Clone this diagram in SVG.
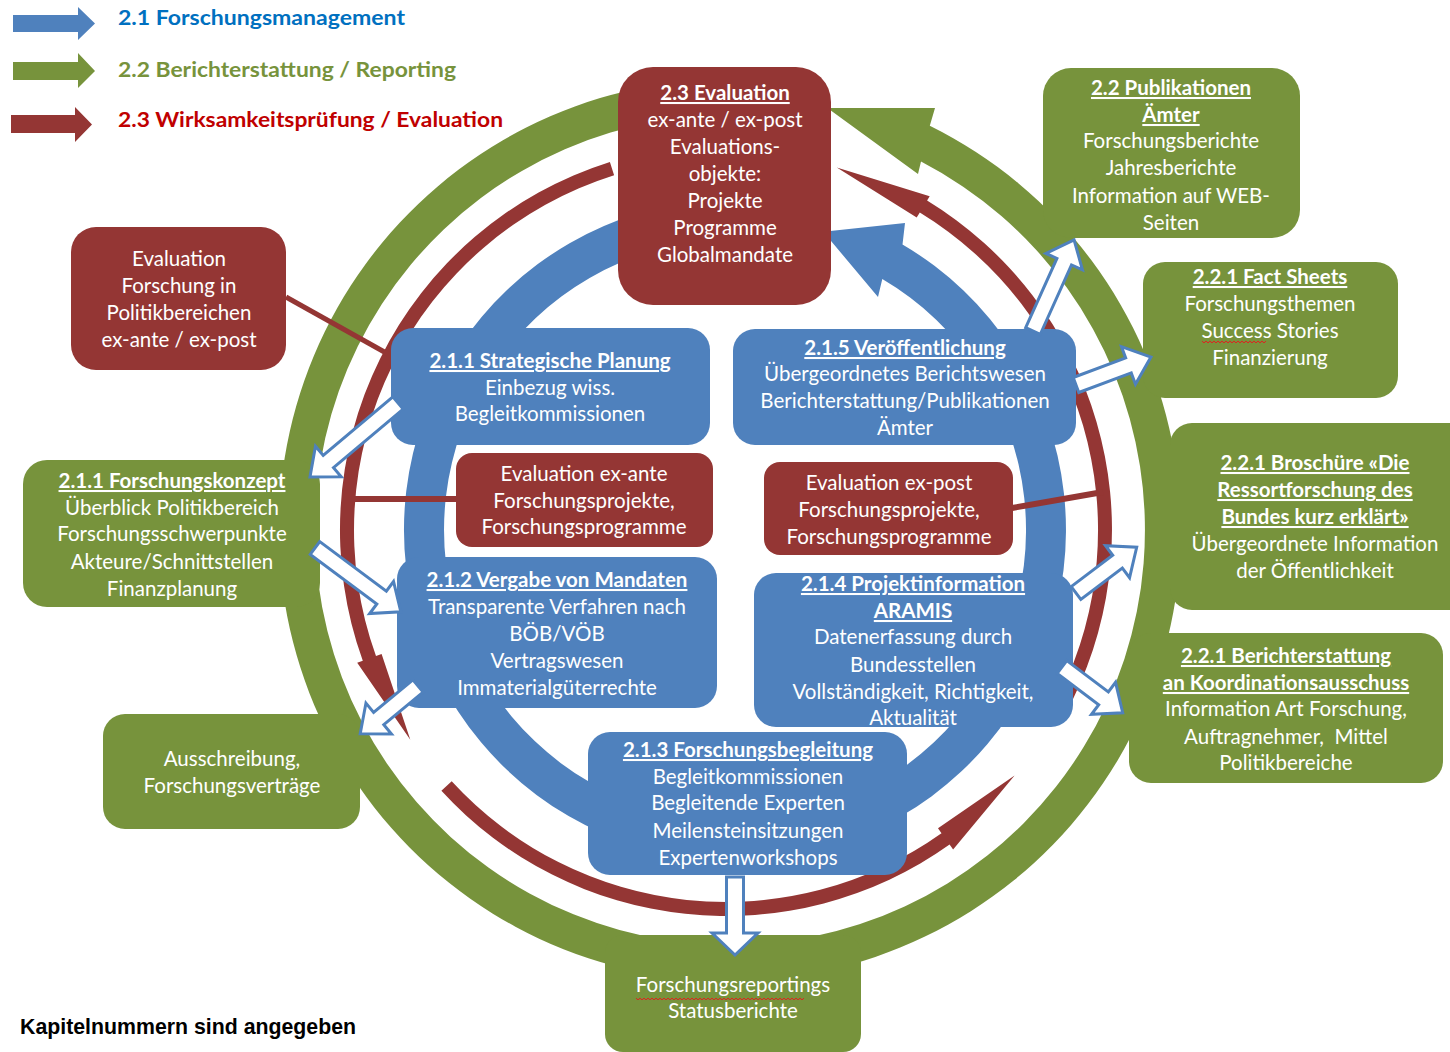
<svg xmlns="http://www.w3.org/2000/svg" width="1450" height="1052" viewBox="0 0 1450 1052">
<defs>
<style>
.tx{font-family:Lato,"Open Sans","Liberation Sans",sans-serif;font-size:20.5px;fill:#fff;text-anchor:middle}
.hd{font-weight:700;text-decoration:underline}
.lg{font-family:Lato,"Liberation Sans",sans-serif;font-size:21px;font-weight:700}
.red{fill:#943634}
.grn{fill:#77933C}
.blu{fill:#4F81BD}
.ln{stroke:#943634;fill:none}
.wa{fill:#fff;stroke:#4F81BD;stroke-width:3;stroke-linejoin:miter}
.wv{fill:none;stroke:#E02020;stroke-width:1}
</style>
</defs>
<rect x="0" y="0" width="1450" height="1052" fill="#fff"/>

<g id="legend">
<polygon class="blu" points="13,15 78,15 78,7 95,23.5 78,40 78,32 13,32"/>
<polygon class="grn" points="13,62 78,62 78,53 95,71 78,88 78,80 13,80"/>
<polygon class="red" points="11,115 75,115 75,107 92,124.5 75,142 75,133 11,133"/>
<text class="lg" x="118" y="25" fill="#0070C0" textLength="287" lengthAdjust="spacingAndGlyphs">2.1 Forschungsmanagement</text>
<text class="lg" x="118" y="77" fill="#77933C" textLength="338" lengthAdjust="spacingAndGlyphs">2.2 Berichterstattung / Reporting</text>
<text class="lg" x="118" y="127" fill="#C00000" textLength="385" lengthAdjust="spacingAndGlyphs">2.3 Wirksamkeitsprüfung / Evaluation</text>
</g>

<g id="rings">
<path class="grn" d="M651.7,85.8 A451,451 0 1 0 929.8,125.7 L935,108 L827.4,108.1 L918,174 L921,161.6 A415,415 0 1 1 657.9,121.3 Z"/>
<path class="red" d="M1072.9,699.2 A386,386 0 0 0 927.1,200.5 L929.7,196.3 L836.8,167.6 L916.7,217.6 L919.8,212.5 A372,372 0 0 1 1060.4,693.1 Z"/>
<path class="red" d="M441.4,790.8 A386,386 0 0 0 949.6,844.6 L953.1,849.5 L1014.6,775.6 L938,828.3 L941.5,833.2 A372,372 0 0 1 451.7,781.3 Z"/>
<path class="red" d="M609.9,161.9 A386,386 0 0 0 362.8,660.8 L357.2,662.8 L410.3,739.7 L381.6,654 L376,656 A372,372 0 0 1 614.1,175.2 Z"/>
<path class="blu" d="M677.5,204 A331,331 0 1 0 902.5,244.5 L905,223 L823.3,231.8 L878,297 L882.3,279 A291,291 0 1 1 684.5,243.4 Z"/>
</g>

<g id="eval-links">
<line class="ln" x1="286" y1="297" x2="388" y2="354" stroke-width="5"/>
<line class="ln" x1="350" y1="499" x2="457" y2="499" stroke-width="6"/>
<line class="ln" x1="1012" y1="508" x2="1103" y2="492" stroke-width="6"/>
</g>

<g id="n-eval">
<rect class="red" x="618" y="67" width="213" height="238" rx="35"/>
<text class="tx"><tspan class="hd" x="725" y="100">2.3 Evaluation</tspan><tspan x="725" y="127">ex-ante / ex-post</tspan><tspan x="725" y="154">Evaluations-</tspan><tspan x="725" y="181">objekte:</tspan><tspan x="725" y="208">Projekte</tspan><tspan x="725" y="235">Programme</tspan><tspan x="725" y="262">Globalmandate</tspan></text>
</g>

<g id="n-politik">
<rect class="red" x="71" y="227" width="215" height="143" rx="25"/>
<text class="tx"><tspan x="179" y="266">Evaluation</tspan><tspan x="179" y="293">Forschung in</tspan><tspan x="179" y="320">Politikbereichen</tspan><tspan x="179" y="347">ex-ante / ex-post</tspan></text>
</g>

<g id="n-211-planung">
<rect class="blu" x="391" y="328" width="319" height="117" rx="22"/>
<text class="tx"><tspan class="hd" x="550" y="368">2.1.1 Strategische Planung</tspan><tspan x="550" y="395">Einbezug wiss.</tspan><tspan x="550" y="421">Begleitkommissionen</tspan></text>
</g>

<g id="n-exante">
<rect class="red" x="456" y="453" width="257" height="94" rx="16"/>
<text class="tx"><tspan x="584" y="481">Evaluation ex-ante</tspan><tspan x="584" y="508">Forschungsprojekte,</tspan><tspan x="584" y="534">Forschungsprogramme</tspan></text>
</g>

<g id="n-212">
<rect class="blu" x="397" y="557" width="320" height="151" rx="22"/>
<text class="tx"><tspan class="hd" x="557" y="587">2.1.2 Vergabe von Mandaten</tspan><tspan x="557" y="614">Transparente Verfahren nach</tspan><tspan x="557" y="641">BÖB/VÖB</tspan><tspan x="557" y="668">Vertragswesen</tspan><tspan x="557" y="695">Immaterialgüterrechte</tspan></text>
</g>

<g id="n-215">
<rect class="blu" x="733" y="329" width="343" height="116" rx="22"/>
<text class="tx"><tspan class="hd" x="905" y="355">2.1.5 Veröffentlichung</tspan><tspan x="905" y="381">Übergeordnetes Berichtswesen</tspan><tspan x="905" y="408">Berichterstattung/Publikationen</tspan><tspan x="905" y="435">Ämter</tspan></text>
</g>

<g id="n-expost">
<rect class="red" x="764" y="462" width="249" height="93" rx="16"/>
<text class="tx"><tspan x="889" y="490">Evaluation ex-post</tspan><tspan x="889" y="517">Forschungsprojekte,</tspan><tspan x="889" y="544">Forschungsprogramme</tspan></text>
</g>

<g id="n-214">
<rect class="blu" x="754" y="573" width="319" height="154" rx="22"/>
<text class="tx"><tspan class="hd" x="913" y="591">2.1.4 Projektinformation</tspan><tspan class="hd" x="913" y="618">ARAMIS</tspan><tspan x="913" y="644">Datenerfassung durch</tspan><tspan x="913" y="672">Bundesstellen</tspan><tspan x="913" y="699">Vollständigkeit, Richtigkeit,</tspan><tspan x="913" y="725">Aktualität</tspan></text>
</g>

<g id="n-213">
<rect class="blu" x="588" y="732" width="319" height="143" rx="22"/>
<text class="tx"><tspan class="hd" x="748" y="757">2.1.3 Forschungsbegleitung</tspan><tspan x="748" y="784">Begleitkommissionen</tspan><tspan x="748" y="810">Begleitende Experten</tspan><tspan x="748" y="838">Meilensteinsitzungen</tspan><tspan x="748" y="865">Expertenworkshops</tspan></text>
</g>

<g id="n-konzept">
<rect class="grn" x="23" y="460" width="297" height="147" rx="24"/>
<text class="tx"><tspan class="hd" x="172" y="488">2.1.1 Forschungskonzept</tspan><tspan x="172" y="515">Überblick Politikbereich</tspan><tspan x="172" y="541">Forschungsschwerpunkte</tspan><tspan x="172" y="569">Akteure/Schnittstellen</tspan><tspan x="172" y="596">Finanzplanung</tspan></text>
</g>

<g id="n-ausschreibung">
<rect class="grn" x="103" y="714" width="257" height="115" rx="22"/>
<text class="tx"><tspan x="232" y="766">Ausschreibung,</tspan><tspan x="232" y="793">Forschungsverträge</tspan></text>
</g>

<g id="n-publikationen">
<rect class="grn" x="1043" y="68" width="257" height="170" rx="28"/>
<text class="tx"><tspan class="hd" x="1171" y="95">2.2 Publikationen</tspan><tspan class="hd" x="1171" y="122">Ämter</tspan><tspan x="1171" y="148">Forschungsberichte</tspan><tspan x="1171" y="175">Jahresberichte</tspan><tspan x="1171" y="203">Information auf WEB-</tspan><tspan x="1171" y="230">Seiten</tspan></text>
</g>

<g id="n-factsheets">
<rect class="grn" x="1143" y="262" width="255" height="136" rx="22"/>
<text class="tx"><tspan class="hd" x="1270" y="284">2.2.1 Fact Sheets</tspan><tspan x="1270" y="311">Forschungsthemen</tspan><tspan x="1270" y="338">Success Stories</tspan><tspan x="1270" y="365">Finanzierung</tspan></text>
<path class="wv" d="M1202,341 l2,2 2,-2 2,2 2,-2 2,2 2,-2 2,2 2,-2 2,2 2,-2 2,2 2,-2 2,2 2,-2 2,2 2,-2 2,2 2,-2 2,2 2,-2 2,2 2,-2 2,2 2,-2 2,2 2,-2 2,2 2,-2 2,2 2,-2 2,2 2,-2"/>
</g>

<g id="n-broschuere">
<rect class="grn" x="1170" y="423" width="300" height="187" rx="22"/>
<text class="tx"><tspan class="hd" x="1315" y="470">2.2.1 Broschüre «Die</tspan><tspan class="hd" x="1315" y="497">Ressortforschung des</tspan><tspan class="hd" x="1315" y="524">Bundes kurz erklärt»</tspan><tspan x="1315" y="551">Übergeordnete Information</tspan><tspan x="1315" y="578">der Öffentlichkeit</tspan></text>
</g>

<g id="n-berichterstattung">
<rect class="grn" x="1129" y="633" width="314" height="150" rx="22"/>
<text class="tx" xml:space="preserve"><tspan class="hd" x="1286" y="663">2.2.1 Berichterstattung</tspan><tspan class="hd" x="1286" y="690">an Koordinationsausschuss</tspan><tspan x="1286" y="716">Information Art Forschung,</tspan><tspan x="1286" y="744">Auftragnehmer,  Mittel</tspan><tspan x="1286" y="770">Politikbereiche</tspan></text>
</g>

<g id="n-reportings">
<rect class="grn" x="605" y="935" width="256" height="117" rx="18"/>
<text class="tx"><tspan x="733" y="992">Forschungsreportings</tspan><tspan x="733" y="1018">Statusberichte</tspan></text>
<path class="wv" d="M636,998 l2,2 2,-2 2,2 2,-2 2,2 2,-2 2,2 2,-2 2,2 2,-2 2,2 2,-2 2,2 2,-2 2,2 2,-2 2,2 2,-2 2,2 2,-2 2,2 2,-2 2,2 2,-2 2,2 2,-2 2,2 2,-2 2,2 2,-2 2,2 2,-2 2,2 2,-2 2,2 2,-2 2,2 2,-2 2,2 2,-2 2,2 2,-2 2,2 2,-2 2,2 2,-2 2,2 2,-2 2,2 2,-2 2,2 2,-2 2,2 2,-2 2,2 2,-2 2,2 2,-2 2,2 2,-2 2,2 2,-2 2,2 2,-2 2,2 2,-2 2,2 2,-2 2,2 2,-2 2,2 2,-2 2,2 2,-2 2,2 2,-2 2,2 2,-2 2,2 2,-2 2,2 2,-2 2,2 2,-2"/>
</g>

<g id="connectors">
<path class="wa" transform="translate(398,403) rotate(139.94)" d="M0,-8 H91 V-20 L115,0 L91,20 V8 H0 Z"/>
<path class="wa" transform="translate(315,548) rotate(36.65)" d="M0,-8 H83 V-20 L107,0 L83,20 V8 H0 Z"/>
<path class="wa" transform="translate(418,686) rotate(140.4)" d="M0,-8 H51 V-20 L75,0 L51,20 V8 H0 Z"/>
<path class="wa" transform="translate(1033,331) rotate(-65.75)" d="M0,-8 H76 V-20 L100,0 L76,20 V8 H0 Z"/>
<path class="wa" transform="translate(1076,385) rotate(-20.47)" d="M0,-8 H56 V-20 L80,0 L56,20 V8 H0 Z"/>
<path class="wa" transform="translate(1076,593) rotate(-37)" d="M0,-8 H52 V-20 L76,0 L52,20 V8 H0 Z"/>
<path class="wa" transform="translate(1062,667) rotate(37)" d="M0,-8 H52 V-20 L76,0 L52,20 V8 H0 Z"/>
<path class="wa" transform="translate(735,877) rotate(90)" d="M0,-8.5 H56 V-23 L78,0 L56,23 V8.5 H0 Z"/>
</g>

<text x="20" y="1034" font-family="'Liberation Sans',Arial,sans-serif" font-size="21.3" font-weight="700" fill="#000">Kapitelnummern sind angegeben</text>
</svg>
